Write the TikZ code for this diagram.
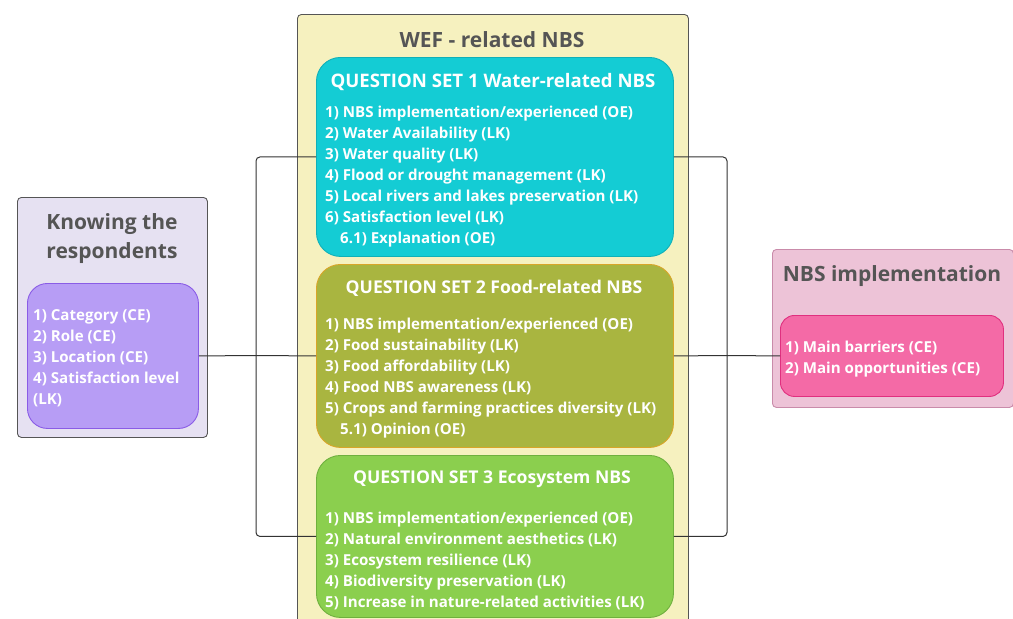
\documentclass[tikz,border=0pt]{standalone}
\usepackage{fontspec}
\setmainfont{Open Sans}
\usepackage{xcolor}
\usepackage{tikz}
\usetikzlibrary{positioning, calc}
\definecolor{titlegray}{HTML}{555555}
\definecolor{lavender}{HTML}{E6E1F2}
\definecolor{violetfill}{HTML}{B79DF5}
\definecolor{violetline}{HTML}{8A5CE6}
\definecolor{wefyellow}{HTML}{F6F1BF}
\definecolor{waterfill}{HTML}{14CCD4}
\definecolor{waterline}{HTML}{10B0B8}
\definecolor{foodfill}{HTML}{A9B540}
\definecolor{foodline}{HTML}{D9A528}
\definecolor{ecofill}{HTML}{8BCF4E}
\definecolor{ecoline}{HTML}{6FB03E}
\definecolor{rosefill}{HTML}{EDC3D7}
\definecolor{roseline}{HTML}{C98BAA}
\definecolor{pinkfill}{HTML}{F46AA6}
\definecolor{pinkline}{HTML}{E0307F}

\begin{document}
\begin{tikzpicture}[
    x=1pt, y=-1pt,
    groupbox/.style={rectangle, rounded corners=4pt, draw=titlegray, line width=0.9pt, anchor=north west, inner sep=0pt},
    setbox/.style={rectangle, rounded corners=24pt, line width=0.9pt, anchor=north west, inner sep=0pt},
    grouptitle/.style={font=\fontsize{21}{29}\selectfont\bfseries, text=titlegray, align=center},
    settitle/.style={font=\fontsize{17.6}{22}\selectfont\bfseries, text=white},
    itemtext/.style={font=\fontsize{15.1}{21}\selectfont\bfseries, text=white, align=left, anchor=west, inner sep=0pt},
    link/.style={draw=black!80, line width=1pt, rounded corners=4pt}
]
\useasboundingbox (0,0) rectangle (1013,619);

% left group
\node[groupbox, fill=lavender, minimum width=190pt, minimum height=240pt] (know) at (17,197) {};
\node[grouptitle] (knowtitle) at (112,239) {Knowing the\\respondents};
\node[setbox, rounded corners=20pt, fill=violetfill, draw=violetline, minimum width=171pt, minimum height=145pt] (resp) at (27,283) {};
\node[itemtext] (respitems) at (33,358) {1) Category (CE)\\2) Role (CE)\\3) Location (CE)\\4) Satisfaction level\\(LK)};

% WEF group
\node[groupbox, fill=wefyellow, minimum width=391pt, minimum height=620pt] (wef) at (297,14) {};
\node[grouptitle] (weftitle) at (492,40) {WEF - related NBS};

\node[setbox, fill=waterfill, draw=waterline, minimum width=357pt, minimum height=199pt] (q1) at (316,57) {};
\node[settitle, font=\fontsize{18.6}{22}\selectfont\bfseries] (q1title) at (493,82) {QUESTION SET 1 Water-related NBS};
\node[itemtext] (q1items) at (325,177) {1) NBS implementation/experienced (OE)\\2) Water Availability (LK)\\3) Water quality (LK)\\4) Flood or drought management (LK)\\5) Local rivers and lakes preservation (LK)\\6) Satisfaction level (LK)\\\hspace*{15pt}6.1) Explanation (OE)};

\node[setbox, fill=foodfill, draw=foodline, minimum width=357pt, minimum height=183pt] (q2) at (316,264) {};
\node[settitle] (q2title) at (494,288.5) {QUESTION SET 2 Food-related NBS};
\node[itemtext] (q2items) at (325,378.5) {1) NBS implementation/experienced (OE)\\2) Food sustainability (LK)\\3) Food affordability (LK)\\4) Food NBS awareness (LK)\\5) Crops and farming practices diversity (LK)\\\hspace*{15pt}5.1) Opinion (OE)};

\node[setbox, fill=ecofill, draw=ecoline, minimum width=357pt, minimum height=162pt] (q3) at (316,455) {};
\node[settitle] (q3title) at (492,479.5) {QUESTION SET 3 Ecosystem NBS};
\node[itemtext] (q3items) at (325,561) {1) NBS implementation/experienced (OE)\\2) Natural environment aesthetics (LK)\\3) Ecosystem resilience (LK)\\4) Biodiversity preservation (LK)\\5) Increase in nature-related activities (LK)};

% right group
\node[groupbox, fill=rosefill, draw=roseline, minimum width=241pt, minimum height=158pt] (nbs) at (772,249) {};
\node[grouptitle] (nbstitle) at (892,276) {NBS implementation};
\node[setbox, rounded corners=14pt, fill=pinkfill, draw=pinkline, minimum width=223pt, minimum height=81pt] (impl) at (780,315) {};
\node[itemtext] (implitems) at (785,359) {1) Main barriers (CE)\\2) Main opportunities (CE)};

% connectors
\coordinate (ljoin) at (256,355.5);
\coordinate (rjoin) at (727,355.5);
\draw[link] (q1.west) -| (ljoin) |- (q3.west);
\draw[link] (resp.east) -- (ljoin) -- (q2.west);
\draw[link] (q1.east) -| (rjoin) |- (q3.east);
\draw[link] (q2.east) -- (rjoin) -- (impl.west);

\end{tikzpicture}
\end{document}
